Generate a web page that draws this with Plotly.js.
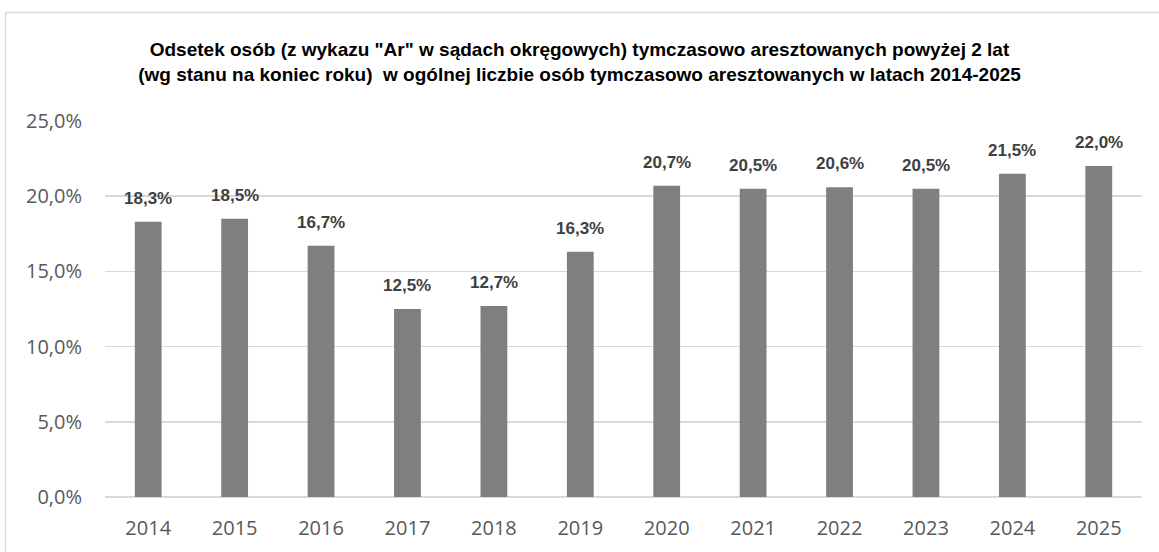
<!DOCTYPE html>
<html><head><meta charset="utf-8">
<script src="https://cdn.plot.ly/plotly-3.0.1.min.js"></script>
<style>html,body{margin:0;padding:0;background:#fff}#chart{width:1159px;height:552px}</style>
</head><body><div id="chart"></div>
<script>
const years = ['2014','2015','2016','2017','2018','2019','2020','2021','2022','2023','2024','2025'];
const shares = [18.3, 18.5, 16.7, 12.5, 12.7, 16.3, 20.7, 20.5, 20.6, 20.5, 21.5, 22.0];
const labels = shares.map(v => v.toFixed(1).replace('.', ',') + '%');
const yTicks = [0, 5, 10, 15, 20, 25];
const yTickText = yTicks.map(v => v.toFixed(1).replace('.', ',') + '%');
const titleText = 'Odsetek osób (z wykazu "Ar" w sądach okręgowych) tymczasowo aresztowanych powyżej 2 lat<br>(wg stanu na koniec roku)  w ogólnej liczbie osób tymczasowo aresztowanych w latach 2014-2025';

const labelFont = {family: '"Liberation Sans", Arial, sans-serif', size: 17, color: '#404040'};

const trace = {
  type: 'bar', x: years, y: shares,
  marker: {color: '#7f7f7f'},
  hoverinfo: 'skip'
};

const annotations = years.map((yr, i) => ({
  x: i, y: shares[i], xref: 'x', yref: 'y',
  text: '<b>' + labels[i] + '</b>', showarrow: false,
  yanchor: 'bottom', yshift: 12, font: labelFont
}));

const layout = {
  width: 1159, height: 552,
  margin: {l: 105, r: 17, t: 121, b: 55},
  paper_bgcolor: '#ffffff', plot_bgcolor: '#ffffff',
  bargap: 0.69,
  showlegend: false,
  title: {
    text: '<b>' + titleText + '</b>',
    x: 0.5, xref: 'container', xanchor: 'center',
    y: 1 - 56/552, yref: 'container', yanchor: 'top',
    font: {family: '"Liberation Sans", Arial, sans-serif', size: 19, color: '#000000'}
  },
  xaxis: {
    type: 'category', range: [-0.5, years.length - 0.5],
    showgrid: false, showline: false, zeroline: false,
    ticks: 'outside', ticklen: 13, tickcolor: 'rgba(0,0,0,0)',
    tickfont: {family: '"Open Sans", sans-serif', size: 20, color: '#595959'}
  },
  yaxis: {
    range: [0, 25], tickvals: yTicks, ticktext: yTickText,
    showgrid: true, gridcolor: '#d9d9d9', gridwidth: 1.5,
    zeroline: true, zerolinecolor: '#d9d9d9', zerolinewidth: 1.5,
    showline: false,
    ticks: 'outside', ticklen: 18, tickcolor: 'rgba(0,0,0,0)',
    tickfont: {family: '"Open Sans", sans-serif', size: 20, color: '#595959'}
  },
  annotations: annotations,
  shapes: [{
    type: 'rect', xref: 'paper', yref: 'paper',
    x0: (5.5 - 105) / 1037, x1: 1.1, y0: -0.3, y1: (497 - 12.5) / 376,
    line: {color: '#d9d9d9', width: 1.5}, fillcolor: 'rgba(0,0,0,0)', layer: 'below'
  }]
};

Plotly.newPlot('chart', [trace], layout, {displayModeBar: false, staticPlot: true});
</script></body></html>
